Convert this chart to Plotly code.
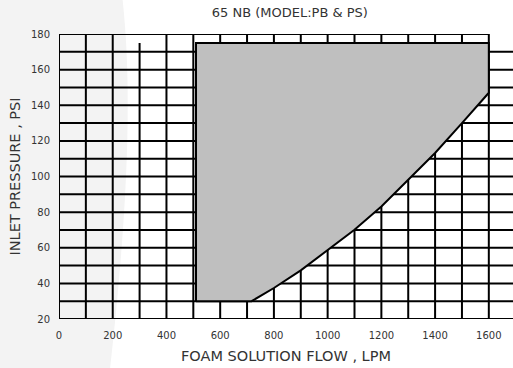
import plotly.graph_objects as go

# Data
title_text = "65 NB (MODEL:PB & PS)"
x_title = "FOAM SOLUTION FLOW , LPM"
y_title = "INLET PRESSURE , PSI"

x_ticks = [0, 200, 400, 600, 800, 1000, 1200, 1400, 1600]
y_ticks = [20, 40, 60, 80, 100, 120, 140, 160, 180]
x_grid = [0, 100, 200, 300, 400, 500, 600, 700, 800, 900, 1000, 1100, 1200, 1300, 1400, 1500, 1600]
y_grid = [20, 30, 40, 50, 60, 70, 80, 90, 100, 110, 120, 130, 140, 150, 160, 170, 180]

# operating envelope
env_top = 175
env_left = 510
env_bottom = 30
curve_flow = [717, 800, 900, 1000, 1100, 1200, 1300, 1400, 1500, 1600]
curve_psi = [30, 37.4, 47.3, 58.5, 70.1, 83.2, 98.2, 113.2, 130, 147]

X_MAX = 1690
Y_MIN, Y_MAX = 20, 180

poly_x = [env_left, env_left, 1600] + curve_flow[::-1] + [env_left]
poly_y = [env_bottom, env_top, env_top] + curve_psi[::-1] + [env_bottom]

fig = go.Figure()
fig.add_trace(go.Scatter(
    x=poly_x, y=poly_y, mode="lines", fill="toself",
    fillcolor="#bfbfbf", line=dict(color="black", width=2, shape="linear"),
    hoverinfo="skip", showlegend=False,
))

shapes = []
# decorative background swoosh (paper coords)
shapes.append(dict(
    type="path", xref="paper", yref="paper", layer="below",
    path="M -0.2 1.2 L 0.134 1.2 C 0.16 0.9, 0.16 0.5, 0.112 -0.18 L -0.2 -0.18 Z",
    fillcolor="#f3f3f3", line=dict(width=0),
))
for gx in x_grid:
    top = env_top if gx == 300 else Y_MAX
    shapes.append(dict(type="line", xref="x", yref="y", layer="below",
                       x0=gx, x1=gx, y0=Y_MIN, y1=top,
                       line=dict(color="black", width=2)))
for gy in y_grid:
    right = 1600 if gy == Y_MAX else X_MAX
    shapes.append(dict(type="line", xref="x", yref="y", layer="below",
                       x0=0, x1=right, y0=gy, y1=gy,
                       line=dict(color="black", width=2)))

font_family = "DejaVu Sans"
fig.update_layout(
    width=513, height=368,
    margin=dict(l=59, r=0, t=34, b=49),
    paper_bgcolor="white", plot_bgcolor="rgba(0,0,0,0)",
    shapes=shapes,
    font=dict(family=font_family, color="#333333", size=10),
    title=dict(text=title_text, x=0.565, xanchor="center", y=0.965, yanchor="middle",
               font=dict(size=13, color="#333333")),
    xaxis=dict(range=[0, X_MAX], tickvals=x_ticks, showgrid=False, zeroline=False,
               showline=False, ticks="", tickfont=dict(size=10), automargin=False,
               ticklabelstandoff=9,
               title=dict(text=x_title, font=dict(size=14.5), standoff=10)),
    yaxis=dict(range=[Y_MIN, Y_MAX], tickvals=y_ticks, showgrid=False, zeroline=False,
               showline=False, ticks="", tickfont=dict(size=10), automargin=False,
               ticklabelstandoff=8,
               title=dict(text=y_title, font=dict(size=14.5), standoff=6)),
)
fig.write_html("out.html", config={"displayModeBar": False},
               post_script="document.body.style.margin='0';")
